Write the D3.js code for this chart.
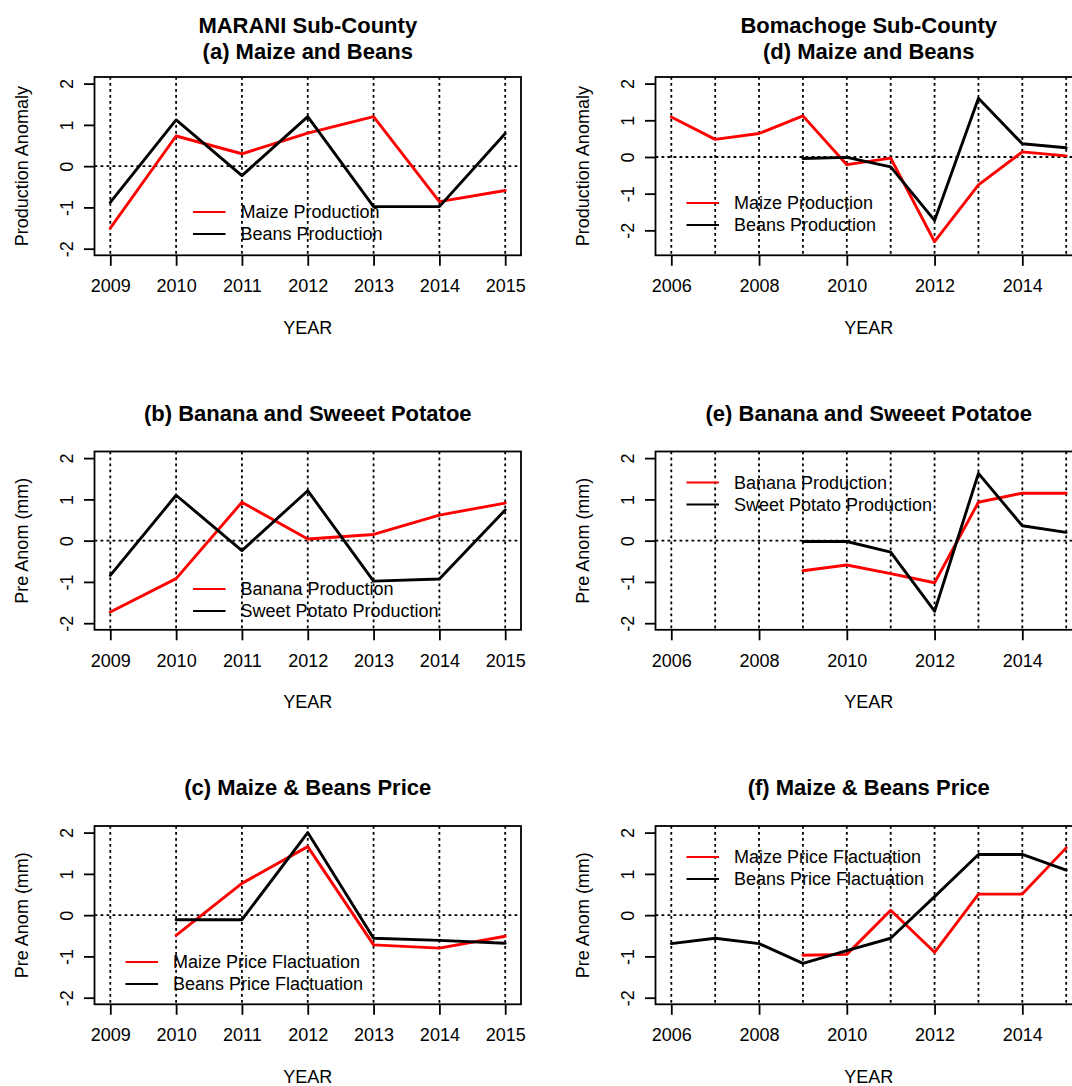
<!DOCTYPE html>
<html>
<head>
<meta charset="utf-8">
<script src="https://cdn.jsdelivr.net/npm/d3@7"></script>
<style>
  html, body { margin: 0; padding: 0; background: #fff; }
  svg { display: block; }
</style>
</head>
<body>
<div id="chart"></div>
<script>
// ---- Year axes and tick labels ----
const maraniYears = [2009, 2010, 2011, 2012, 2013, 2014, 2015];
const bomachogeYears = [2006, 2007, 2008, 2009, 2010, 2011, 2012, 2013, 2014, 2015];
const maraniYearTicks = [2009, 2010, 2011, 2012, 2013, 2014, 2015];
const bomachogeYearTicks = [2006, 2008, 2010, 2012, 2014];
const anomalyTicks = [-2, -1, 0, 1, 2];

// ---- MARANI Sub-County anomalies (one value per year in maraniYears) ----
const maraniMaizeProduction = [-1.50, 0.73, 0.30, 0.80, 1.20, -0.86, -0.59];
const maraniBeansProduction = [-0.88, 1.12, -0.23, 1.20, -0.98, -0.98, 0.79];
const maraniBananaProduction = [-1.73, -0.92, 0.93, 0.04, 0.15, 0.62, 0.91];
const maraniSweetPotatoProduction = [-0.84, 1.10, -0.24, 1.21, -0.98, -0.93, 0.74];
const maraniMaizePrice = [null, -0.49, 0.77, 1.66, -0.72, -0.80, -0.51];
const maraniBeansPrice = [null, -0.11, -0.11, 2.00, -0.56, -0.61, -0.68];

// ---- Bomachoge Sub-County anomalies (one value per year in bomachogeYears) ----
const bomachogeMaizeProduction = [1.09, 0.48, 0.64, 1.12, -0.21, -0.03, -2.31, -0.76, 0.14, 0.03];
const bomachogeBeansProduction = [null, null, null, -0.04, -0.01, -0.27, -1.73, 1.60, 0.36, 0.25];
const bomachogeBananaProduction = [null, null, null, -0.73, -0.59, -0.80, -1.02, 0.93, 1.15, 1.15];
const bomachogeSweetPotatoProduction = [null, null, null, -0.02, -0.02, -0.28, -1.71, 1.63, 0.36, 0.20];
const bomachogeMaizePrice = [null, null, null, -0.97, -0.95, 0.12, -0.90, 0.51, 0.51, 1.63];
const bomachogeBeansPrice = [-0.69, -0.56, -0.69, -1.17, -0.86, -0.56, 0.45, 1.47, 1.47, 1.09];

// ---- Layout ----
const W = 1072, H = 1086;
const FONT = "'Liberation Sans', Arial, Helvetica, sans-serif";
const colLeft = [94.5, 655.5];
const rowTop = [77, 451.5, 826];
const boxW = 426.5, boxH = 178.3;

const panels = [
  { col: 0, row: 0, title: ["MARANI Sub-County", "(a) Maize and Beans"], ylab: "Production Anomaly",
    years: maraniYears, ticks: maraniYearTicks, ylim: [-2, 2],
    series: [{ name: "Maize Production", values: maraniMaizeProduction, color: "#ff0000" },
             { name: "Beans Production", values: maraniBeansProduction, color: "#000000" }],
    legend: { x: 98.5, y: 135 } },
  { col: 0, row: 1, title: ["(b) Banana and Sweeet Potatoe"], ylab: "Pre Anom (mm)",
    years: maraniYears, ticks: maraniYearTicks, ylim: [-2, 2],
    series: [{ name: "Banana Production", values: maraniBananaProduction, color: "#ff0000" },
             { name: "Sweet Potato Production", values: maraniSweetPotatoProduction, color: "#000000" }],
    legend: { x: 98.5, y: 137.5 } },
  { col: 0, row: 2, title: ["(c) Maize & Beans Price"], ylab: "Pre Anom (mm)",
    years: maraniYears, ticks: maraniYearTicks, ylim: [-2, 2],
    series: [{ name: "Maize Price Flactuation", values: maraniMaizePrice, color: "#ff0000" },
             { name: "Beans Price Flactuation", values: maraniBeansPrice, color: "#000000" }],
    legend: { x: 31, y: 136 } },
  { col: 1, row: 0, title: ["Bomachoge Sub-County", "(d) Maize and Beans"], ylab: "Production Anomaly",
    years: bomachogeYears, ticks: bomachogeYearTicks, ylim: [-2.5, 2],
    series: [{ name: "Maize Production", values: bomachogeMaizeProduction, color: "#ff0000" },
             { name: "Beans Production", values: bomachogeBeansProduction, color: "#000000" }],
    legend: { x: 31, y: 126 } },
  { col: 1, row: 1, title: ["(e) Banana and Sweeet Potatoe"], ylab: "Pre Anom (mm)",
    years: bomachogeYears, ticks: bomachogeYearTicks, ylim: [-2, 2],
    series: [{ name: "Banana Production", values: bomachogeBananaProduction, color: "#ff0000" },
             { name: "Sweet Potato Production", values: bomachogeSweetPotatoProduction, color: "#000000" }],
    legend: { x: 31, y: 31 } },
  { col: 1, row: 2, title: ["(f) Maize & Beans Price"], ylab: "Pre Anom (mm)",
    years: bomachogeYears, ticks: bomachogeYearTicks, ylim: [-2, 2],
    series: [{ name: "Maize Price Flactuation", values: bomachogeMaizePrice, color: "#ff0000" },
             { name: "Beans Price Flactuation", values: bomachogeBeansPrice, color: "#000000" }],
    legend: { x: 31, y: 31 } }
];

const svg = d3.select("#chart").append("svg")
  .attr("width", W).attr("height", H)
  .style("font-family", FONT);
svg.append("rect").attr("width", W).attr("height", H).attr("fill", "#fff");

// pad a [min, max] range by 4% on each side
function padded(lo, hi) {
  const d = (hi - lo) * 0.04;
  return [lo - d, hi + d];
}

// plain hyphen-minus tick labels
const plainNumber = d => String(d);

panels.forEach(p => {
  const x0 = colLeft[p.col], y0 = rowTop[p.row];
  const g = svg.append("g").attr("transform", `translate(${x0},${y0})`);

  const xDom = padded(d3.min(p.years), d3.max(p.years));
  const x = d3.scaleLinear().domain(xDom).range([0, boxW]);
  const y = d3.scaleLinear().domain(padded(p.ylim[0], p.ylim[1])).range([boxH, 0]);

  // dotted reference lines: every year and the zero line
  const grid = g.append("g").attr("stroke", "#000").attr("stroke-width", 1.8)
    .attr("stroke-dasharray", "2.8,3.2").attr("fill", "none");
  grid.selectAll("line.v").data(p.years).join("line").attr("class", "v")
    .attr("x1", d => x(d)).attr("x2", d => x(d)).attr("y1", 0).attr("y2", boxH);
  grid.append("line").attr("x1", 0).attr("x2", boxW).attr("y1", y(0)).attr("y2", y(0));

  // data lines
  const line = d3.line()
    .defined(d => d.v !== null)
    .x(d => x(d.year)).y(d => y(d.v));
  p.series.forEach(s => {
    const pts = p.years.map((yr, i) => ({ year: yr, v: s.values[i] }));
    g.append("path").datum(pts)
      .attr("d", line)
      .attr("fill", "none").attr("stroke", s.color).attr("stroke-width", 2.9)
      .attr("stroke-linejoin", "round").attr("stroke-linecap", "round");
  });

  // frame
  g.append("rect").attr("x", 0).attr("y", 0).attr("width", boxW).attr("height", boxH)
    .attr("fill", "none").attr("stroke", "#000").attr("stroke-width", 1.8);

  // x axis
  const xa = g.append("g").attr("transform", `translate(0,${boxH})`)
    .call(d3.axisBottom(x).tickValues(p.ticks).tickFormat(plainNumber).tickSize(10.5));
  xa.select(".domain").remove();
  xa.selectAll("line").attr("stroke", "#000").attr("stroke-width", 1.8);
  xa.selectAll("text").attr("y", 31).attr("dy", null)
    .attr("dominant-baseline", "central")
    .attr("fill", "#000").style("font-size", "18px").style("font-family", FONT);

  // y axis
  const ya = g.append("g")
    .call(d3.axisLeft(y).tickValues(anomalyTicks).tickFormat(plainNumber).tickSize(10.5));
  ya.select(".domain").remove();
  ya.selectAll("line").attr("stroke", "#000").attr("stroke-width", 1.8);
  ya.selectAll("text").attr("x", null).attr("dy", null)
    .attr("transform", "translate(-28,0) rotate(-90)")
    .attr("text-anchor", "middle").attr("dominant-baseline", "central")
    .attr("fill", "#000").style("font-size", "18px").style("font-family", FONT);

  // axis titles
  g.append("text").attr("x", boxW / 2).attr("y", boxH + 72.5)
    .attr("text-anchor", "middle").attr("dominant-baseline", "central")
    .style("font-size", "18px").text("YEAR");
  g.append("text")
    .attr("transform", `translate(-73,${boxH / 2}) rotate(-90)`)
    .attr("text-anchor", "middle").attr("dominant-baseline", "central")
    .style("font-size", "18px").text(p.ylab);

  // panel title (multi-line block centred above the frame)
  const n = p.title.length, lh = 25.8;
  p.title.forEach((t, i) => {
    g.append("text").attr("x", boxW / 2)
      .attr("y", -38.5 + (i - (n - 1) / 2) * lh)
      .attr("text-anchor", "middle").attr("dominant-baseline", "central")
      .style("font-size", "22px").style("font-weight", "bold").text(t);
  });

  // legend (no frame)
  const lg = g.append("g").attr("transform", `translate(${p.legend.x},${p.legend.y})`);
  p.series.forEach((s, i) => {
    const yy = i * 22;
    lg.append("line").attr("x1", 0).attr("x2", 32.5).attr("y1", yy).attr("y2", yy)
      .attr("stroke", s.color).attr("stroke-width", 1.8);
    lg.append("text").attr("x", 47.5).attr("y", yy)
      .attr("dominant-baseline", "central")
      .style("font-size", "18px").text(s.name);
  });
});
</script>
</body>
</html>
